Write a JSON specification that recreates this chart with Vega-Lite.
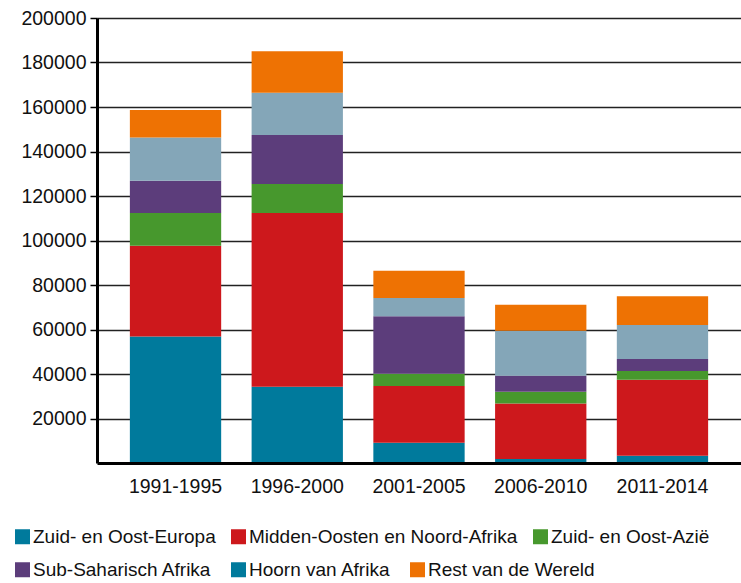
{
  "$schema": "https://vega.github.io/schema/vega-lite/v6.json",
  "width": 644,
  "height": 445,
  "autosize": {"type": "none"},
  "padding": {"left": 97, "top": 18, "right": 0, "bottom": 120},
  "background": "white",
  "data": {
    "values": [
      {"periode": "1991-1995", "regio": "Zuid- en Oost-Europa", "volgorde": 1, "aantal": 56800},
      {"periode": "1991-1995", "regio": "Midden-Oosten en Noord-Afrika", "volgorde": 2, "aantal": 40800},
      {"periode": "1991-1995", "regio": "Zuid- en Oost-Azië", "volgorde": 3, "aantal": 14800},
      {"periode": "1991-1995", "regio": "Sub-Saharisch Afrika", "volgorde": 4, "aantal": 14400},
      {"periode": "1991-1995", "regio": "Hoorn van Afrika", "volgorde": 5, "aantal": 19500},
      {"periode": "1991-1995", "regio": "Rest van de Wereld", "volgorde": 6, "aantal": 12400},
      {"periode": "1996-2000", "regio": "Zuid- en Oost-Europa", "volgorde": 1, "aantal": 34300},
      {"periode": "1996-2000", "regio": "Midden-Oosten en Noord-Afrika", "volgorde": 2, "aantal": 78100},
      {"periode": "1996-2000", "regio": "Zuid- en Oost-Azië", "volgorde": 3, "aantal": 13000},
      {"periode": "1996-2000", "regio": "Sub-Saharisch Afrika", "volgorde": 4, "aantal": 22000},
      {"periode": "1996-2000", "regio": "Hoorn van Afrika", "volgorde": 5, "aantal": 19000},
      {"periode": "1996-2000", "regio": "Rest van de Wereld", "volgorde": 6, "aantal": 18700},
      {"periode": "2001-2005", "regio": "Zuid- en Oost-Europa", "volgorde": 1, "aantal": 9100},
      {"periode": "2001-2005", "regio": "Midden-Oosten en Noord-Afrika", "volgorde": 2, "aantal": 25500},
      {"periode": "2001-2005", "regio": "Zuid- en Oost-Azië", "volgorde": 3, "aantal": 5500},
      {"periode": "2001-2005", "regio": "Sub-Saharisch Afrika", "volgorde": 4, "aantal": 25900},
      {"periode": "2001-2005", "regio": "Hoorn van Afrika", "volgorde": 5, "aantal": 8200},
      {"periode": "2001-2005", "regio": "Rest van de Wereld", "volgorde": 6, "aantal": 12200},
      {"periode": "2006-2010", "regio": "Zuid- en Oost-Europa", "volgorde": 1, "aantal": 1800},
      {"periode": "2006-2010", "regio": "Midden-Oosten en Noord-Afrika", "volgorde": 2, "aantal": 24900},
      {"periode": "2006-2010", "regio": "Zuid- en Oost-Azië", "volgorde": 3, "aantal": 5300},
      {"periode": "2006-2010", "regio": "Sub-Saharisch Afrika", "volgorde": 4, "aantal": 7200},
      {"periode": "2006-2010", "regio": "Hoorn van Afrika", "volgorde": 5, "aantal": 20200},
      {"periode": "2006-2010", "regio": "Rest van de Wereld", "volgorde": 6, "aantal": 11700},
      {"periode": "2011-2014", "regio": "Zuid- en Oost-Europa", "volgorde": 1, "aantal": 3300},
      {"periode": "2011-2014", "regio": "Midden-Oosten en Noord-Afrika", "volgorde": 2, "aantal": 34100},
      {"periode": "2011-2014", "regio": "Zuid- en Oost-Azië", "volgorde": 3, "aantal": 3900},
      {"periode": "2011-2014", "regio": "Sub-Saharisch Afrika", "volgorde": 4, "aantal": 5400},
      {"periode": "2011-2014", "regio": "Hoorn van Afrika", "volgorde": 5, "aantal": 15300},
      {"periode": "2011-2014", "regio": "Rest van de Wereld", "volgorde": 6, "aantal": 13000}
    ]
  },
  "encoding": {
    "x": {
      "field": "periode",
      "type": "nominal",
      "sort": null,
      "title": null,
      "scale": {"paddingInner": 0.25, "paddingOuter": 0.27},
      "axis": {
        "labelAngle": 0,
        "ticks": false,
        "domainColor": "#000000",
        "domainWidth": 3,
        "labelFont": "Liberation Sans",
        "labelFontSize": 19.5,
        "labelColor": "#111111",
        "labelPadding": 14,
        "labelBaseline": "top",
        "grid": false,
        "zindex": 2
      }
    },
    "y": {
      "field": "aantal",
      "type": "quantitative",
      "aggregate": "sum",
      "stack": "zero",
      "title": null,
      "scale": {"domain": [0, 200000], "nice": false},
      "axis": {
        "values": [20000, 40000, 60000, 80000, 100000, 120000, 140000, 160000, 180000, 200000],
        "format": "d",
        "domainColor": "#000000",
        "domainWidth": 3,
        "tickColor": "#000000",
        "tickWidth": 1.5,
        "tickSize": 7,
        "labelFont": "Liberation Sans",
        "labelFontSize": 19.5,
        "labelColor": "#111111",
        "labelPadding": 4,
        "grid": true,
        "gridColor": "#222222",
        "gridWidth": 1.5,
        "zindex": 0
      }
    },
    "order": {"field": "volgorde", "type": "quantitative", "sort": "ascending"}
  },
  "layer": [
    {
      "mark": {"type": "bar", "stroke": null},
      "encoding": {
        "color": {
          "field": "regio",
          "type": "nominal",
          "scale": {
            "domain": ["Zuid- en Oost-Europa", "Midden-Oosten en Noord-Afrika", "Zuid- en Oost-Azië", "Sub-Saharisch Afrika", "Hoorn van Afrika", "Rest van de Wereld"],
            "range": ["#007A9C", "#CD181C", "#47982D", "#5C3D7B", "#84A6B8", "#EE7203"]
          },
          "legend": null
        }
      }
    },
    {
      "transform": [{"filter": "datum.volgorde <= 3"}],
      "mark": {"type": "bar", "stroke": null, "opacity": 0},
      "encoding": {
        "color": {
          "field": "regio",
          "type": "nominal",
          "scale": {
            "domain": ["Zuid- en Oost-Europa", "Midden-Oosten en Noord-Afrika", "Zuid- en Oost-Azië"],
            "range": ["#007A9C", "#CD181C", "#47982D"]
          },
          "legend": {
            "title": null,
            "orient": "none",
            "legendX": -84,
            "legendY": 509,
            "direction": "horizontal",
            "symbolType": "square",
            "symbolSize": 225,
            "symbolStrokeWidth": 0,
            "symbolOpacity": 1,
            "labelFont": "Liberation Sans",
            "labelFontSize": 19,
            "labelColor": "#111111",
            "labelOffset": 1,
            "labelLimit": 400,
            "columnPadding": 13,
            "padding": 0
          }
        }
      }
    },
    {
      "transform": [{"filter": "datum.volgorde >= 4"}],
      "mark": {"type": "bar", "stroke": null, "opacity": 0},
      "encoding": {
        "color": {
          "field": "regio",
          "type": "nominal",
          "scale": {
            "domain": ["Sub-Saharisch Afrika", "Hoorn van Afrika", "Rest van de Wereld"],
            "range": ["#5C3D7B", "#007A9C", "#EE7203"]
          },
          "legend": {
            "title": null,
            "orient": "none",
            "legendX": -84,
            "legendY": 542,
            "direction": "horizontal",
            "symbolType": "square",
            "symbolSize": 225,
            "symbolStrokeWidth": 0,
            "symbolOpacity": 1,
            "labelFont": "Liberation Sans",
            "labelFontSize": 19,
            "labelColor": "#111111",
            "labelOffset": 1,
            "labelLimit": 400,
            "columnPadding": 17,
            "padding": 0
          }
        }
      }
    }
  ],
  "resolve": {"scale": {"color": "independent"}, "legend": {"color": "independent"}},
  "config": {
    "view": {"stroke": null},
    "bar": {"fillOpacity": 1}
  }
}
